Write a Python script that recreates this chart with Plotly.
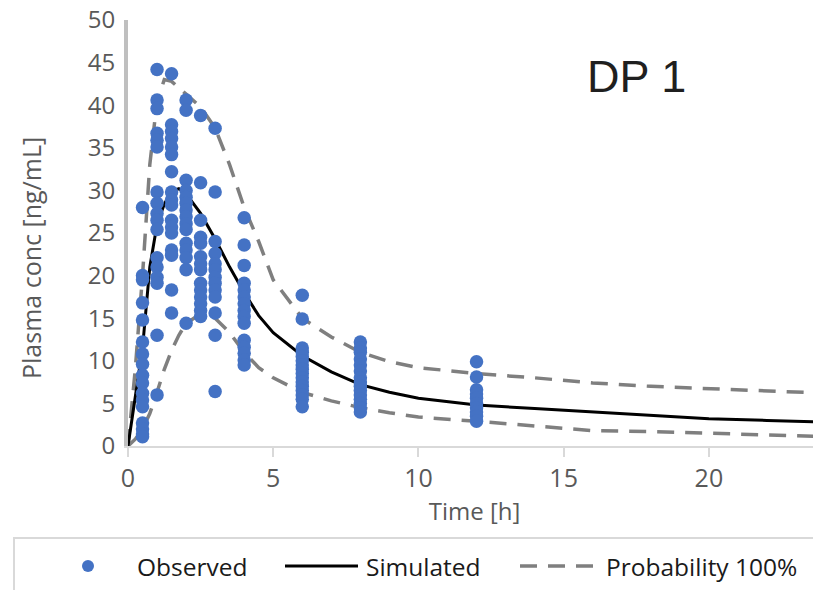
import plotly.graph_objects as go

# Observed concentrations by sampling time [h]
obs_times = [0.5, 1, 1.5, 2, 2.5, 3, 4, 6, 8, 12, 24]
obs_conc = [
    [28.0, 20.0, 19.5, 16.8, 14.8, 12.2, 10.8, 9.6, 8.3, 7.4, 6.2, 5.4, 4.6, 2.7, 2.0, 1.4, 1.1],
    [44.2, 40.6, 39.6, 36.7, 35.9, 35.1, 29.8, 28.5, 27.3, 26.5, 25.4, 22.1, 21.0, 19.8, 19.1, 13.0, 6.0],
    [43.7, 37.7, 36.9, 36.1, 35.1, 34.2, 32.2, 29.8, 28.9, 28.3, 26.5, 25.7, 25.0, 23.0, 22.4, 18.3, 15.6],
    [40.6, 39.4, 31.2, 30.0, 29.2, 28.5, 27.7, 26.9, 26.1, 25.4, 23.8, 23.0, 22.1, 20.7, 14.4],
    [38.8, 30.9, 26.5, 24.5, 23.8, 22.2, 21.4, 20.7, 19.1, 18.3, 17.5, 16.7, 15.9, 15.2],
    [37.3, 29.8, 24.0, 22.6, 21.4, 20.7, 19.8, 19.1, 18.3, 17.5, 15.6, 13.0, 6.4],
    [26.8, 23.6, 21.2, 19.1, 18.3, 17.5, 16.7, 15.9, 15.2, 14.4, 12.4, 11.6, 10.9, 10.1, 9.5],
    [17.7, 14.9, 11.5, 11.0, 10.5, 10.0, 9.5, 9.0, 8.5, 8.0, 7.5, 7.0, 6.5, 6.0, 5.5, 4.6],
    [12.2, 11.5, 11.0, 10.2, 9.5, 8.8, 8.0, 7.5, 7.0, 6.5, 6.0, 5.5, 5.0, 4.5, 4.0],
    [9.9, 8.1, 6.6, 6.1, 5.6, 5.0, 4.5, 4.0, 3.5, 2.9],
    [6.8, 5.2, 4.5, 3.4, 2.5, 1.5, 1.1],
]

# Simulated profile and 100% probability band
sim_time = [0, 0.25, 0.5, 0.75, 1, 1.25, 1.5, 1.75, 2, 2.5, 3, 3.5, 4, 4.5, 5, 6, 7, 8, 9, 10,
            12, 14, 16, 18, 20, 22, 24]
sim_conc = [0, 6.0, 11.5, 21.0, 26.0, 28.4, 29.9, 30.2, 29.6, 27.3, 24.3, 21.0, 18.0, 15.3, 13.3,
            10.6, 8.7, 7.2, 6.3, 5.6, 4.8, 4.4, 4.0, 3.6, 3.2, 3.0, 2.8]
upper_conc = [0, 9.0, 20.0, 33.0, 40.5, 43.0, 42.8, 42.0, 41.3, 39.8, 37.3, 33.0, 28.0, 24.0, 19.5,
              15.0, 12.8, 11.0, 9.9, 9.2, 8.5, 8.0, 7.4, 7.0, 6.7, 6.4, 6.2]
lower_conc = [0, 0.8, 2.0, 3.8, 6.3, 9.0, 11.2, 13.0, 14.4, 15.5, 15.0, 13.3, 11.0, 9.2, 8.0,
              6.3, 5.3, 4.5, 3.9, 3.4, 2.9, 2.3, 1.8, 1.7, 1.5, 1.3, 1.1]

OFF = 8  # page body margin: figure sits 8px in from the window corner
W, H = 821 - OFF, 590 - OFF
L, R, T, B = 128 - OFF, 0, 20 - OFF, H - (446 - OFF)
X_MAX = 23.86  # the 24 h column sits just past the right edge, as in the original
BLUE = '#4472C4'
GREY = '#7f7f7f'
DASH = '17px,11px'
FONT = 'Open Sans'


def px(x, y):
    # window pixel position -> paper coords, for legend decoration only
    x, y = x - OFF, y - OFF
    return (x - L) / (W - L - R), (H - B - y) / (H - T - B)


x_obs, y_obs = [], []
for t, vals in zip(obs_times, obs_conc):
    x_obs += [t] * len(vals)
    y_obs += vals

fig = go.Figure()
fig.add_trace(go.Scatter(x=sim_time, y=upper_conc, mode='lines', name='Probability 100%',
                         line=dict(color=GREY, width=3.5, dash=DASH)))
fig.add_trace(go.Scatter(x=sim_time, y=lower_conc, mode='lines', showlegend=False,
                         line=dict(color=GREY, width=3.5, dash=DASH)))
fig.add_trace(go.Scatter(x=sim_time, y=sim_conc, mode='lines', name='Simulated',
                         line=dict(color='black', width=3)))
fig.add_trace(go.Scatter(x=x_obs, y=y_obs, mode='markers', name='Observed', cliponaxis=False,
                         marker=dict(color=BLUE, size=13.5, line=dict(width=0))))

# legend drawn by hand so the line samples get Excel's length
shapes = []
x0, y0 = px(14, 538)
x1, y1 = px(840, 610)
shapes.append(dict(type='rect', xref='paper', yref='paper', x0=x0, y0=y0, x1=x1, y1=y1,
                   line=dict(color='#d9d9d9', width=2), fillcolor='rgba(0,0,0,0)'))
cx0, cy0 = px(82, 560)
cx1, cy1 = px(94, 572)
shapes.append(dict(type='circle', xref='paper', yref='paper', x0=cx0, y0=cy0, x1=cx1, y1=cy1,
                   fillcolor=BLUE, line=dict(width=0)))
lx0, ly = px(285, 566)
lx1, _ = px(358, 566)
shapes.append(dict(type='line', xref='paper', yref='paper', x0=lx0, y0=ly, x1=lx1, y1=ly,
                   line=dict(color='black', width=3)))
dx0, _ = px(520, 566)
dx1, _ = px(598, 566)
shapes.append(dict(type='line', xref='paper', yref='paper', x0=dx0, y0=ly, x1=dx1, y1=ly,
                   line=dict(color=GREY, width=3.5, dash=DASH)))

annotations = []
for label, lx in [('Observed', 135), ('Simulated', 364), ('Probability 100%', 604)]:
    ax, ay = px(lx, 566)
    annotations.append(dict(text=label, x=ax, y=ay, xref='paper', yref='paper', showarrow=False,
                            xanchor='left', yanchor='middle',
                            font=dict(family=FONT, size=24.5, color='#1a1a1a')))
tx, ty = px(585, 76)
annotations.append(dict(text='DP 1', x=tx, y=ty, xref='paper', yref='paper', showarrow=False,
                        xanchor='left', yanchor='middle',
                        font=dict(family='Liberation Sans, Arial', size=45, color='#1f1f1f')))
# y-axis title sits a little below the plot centre, as in the original
yx, yy = px(31, 258)
annotations.append(dict(text='Plasma conc [ng/mL]', x=yx, y=yy, xref='paper', yref='paper',
                        showarrow=False, textangle=-90, xanchor='center', yanchor='middle',
                        font=dict(family=FONT, size=25, color='#595959')))

fig.update_layout(
    width=W, height=H,
    margin=dict(l=L, r=R, t=T, b=B),
    paper_bgcolor='white', plot_bgcolor='white',
    showlegend=False,
    shapes=shapes,
    annotations=annotations,
    font=dict(family=FONT, color='#595959'),
    xaxis=dict(range=[0, X_MAX], tickvals=[0, 5, 10, 15, 20], showgrid=False, zeroline=False,
               automargin=False,
               showline=True, linecolor='#d9d9d9', linewidth=2,
               ticks='outside', ticklen=9, tickcolor='#d9d9d9', tickwidth=2,
               tickfont=dict(size=25, color='#595959'),
               title=dict(text='Time [h]', font=dict(size=24, color='#595959'), standoff=0)),
    yaxis=dict(range=[0, 50], dtick=5, showgrid=False, zeroline=False,
               automargin=False, ticklabelstandoff=4, ticklabeloverflow='allow',
               showline=True, linecolor='#bfbfbf', linewidth=4, ticks='',
               tickfont=dict(size=24, color='#595959')),
)

fig.write_html('out.html')
